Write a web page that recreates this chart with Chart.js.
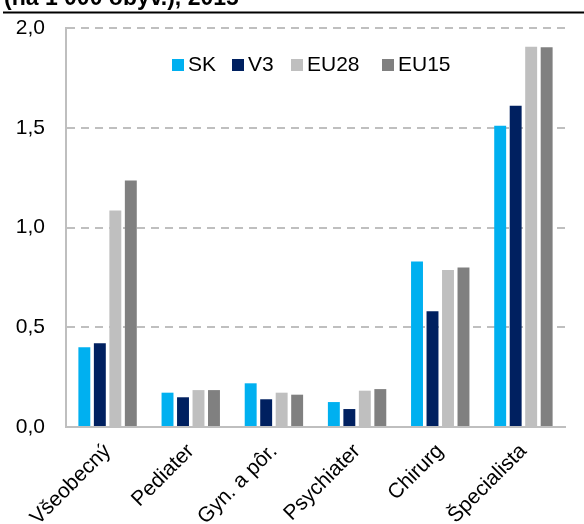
<!DOCTYPE html>
<html><head><meta charset="utf-8">
<script src="https://cdn.jsdelivr.net/npm/chart.js@4/dist/chart.umd.min.js"></script>
<style>html,body{margin:0;padding:0;background:#fff;}#wrap{width:584px;height:524px;position:relative;}</style>
</head><body><div id="wrap"><canvas id="c"></canvas></div>
<script>
const categories = ['Všeobecný','Pediater','Gyn. a pôr.','Psychiater','Chirurg','Špecialista'];
const seriesNames = ['SK','V3','EU28','EU15'];
const skValues   = [0.40, 0.172, 0.219, 0.125, 0.83, 1.51];
const v3Values   = [0.42, 0.149, 0.139, 0.09, 0.58, 1.61];
const eu28Values = [1.085, 0.185, 0.172, 0.182, 0.787, 1.906];
const eu15Values = [1.235, 0.185, 0.162, 0.19, 0.80, 1.903];
const yTickLabels = ['0,0','0,5','1,0','1,5','2,0'];
const titleText = '(na 1 000 obyv.), 2015';
const colors = ['#00B0F0','#002060','#BFBFBF','#808080'];

const FONT = '"Liberation Sans", Arial, sans-serif';

const decoPlugin = {
  id: 'deco',
  afterDraw(chart) {
    const ctx = chart.ctx;
    ctx.save();
    ctx.fillStyle = '#000';
    ctx.font = 'bold 23px ' + FONT;
    ctx.textBaseline = 'alphabetic';
    ctx.textAlign = 'left';
    ctx.fillText(titleText, 4, 5);
    ctx.fillRect(3, 11.5, 581, 2);
    const xs = [172, 232, 291, 382];
    const cy = 65;
    ctx.font = '21px ' + FONT;
    chart.data.datasets.forEach((ds, i) => {
      ctx.fillStyle = ds.backgroundColor;
      ctx.fillRect(xs[i], cy - 6, 12, 12);
      ctx.fillStyle = '#000';
      ctx.fillText(ds.label, xs[i] + 16, cy + 6);
    });
    ctx.restore();
  }
};

const datasets = [skValues, v3Values, eu28Values, eu15Values].map((vals, i) => ({
  label: seriesNames[i],
  data: vals,
  backgroundColor: colors[i],
  borderWidth: 0,
  categoryPercentage: 0.745,
  barPercentage: 0.77
}));

new Chart(document.getElementById('c'), {
  type: 'bar',
  data: { labels: categories, datasets },
  plugins: [decoPlugin],
  options: {
    responsive: true,
    maintainAspectRatio: false,
    animation: false,
    layout: { padding: { left: 0, top: 28, right: 19, bottom: 0 } },
    plugins: { legend: { display: false }, tooltip: { enabled: false } },
    scales: {
      x: {
        grid: { display: false, drawTicks: false },
        border: { display: true, color: '#BFBFBF', width: 2 },
        ticks: { color: '#000', font: { family: FONT, size: 21 }, minRotation: 45, maxRotation: 45, padding: 12, autoSkip: false },
        afterFit(scale) { scale.height = 97; }
      },
      y: {
        min: 0, max: 2,
        grid: { color: '#BFBFBF', lineWidth: 2, drawTicks: false },
        border: { display: true, color: '#BFBFBF', width: 2, dash: [8, 6] },
        ticks: { stepSize: 0.5, color: '#000', font: { family: FONT, size: 21 }, padding: 21,
          callback: (v, i) => yTickLabels[i] },
        afterFit(scale) { scale.width = 66; scale.paddingTop = 0; }
      }
    }
  }
});
</script></body></html>
